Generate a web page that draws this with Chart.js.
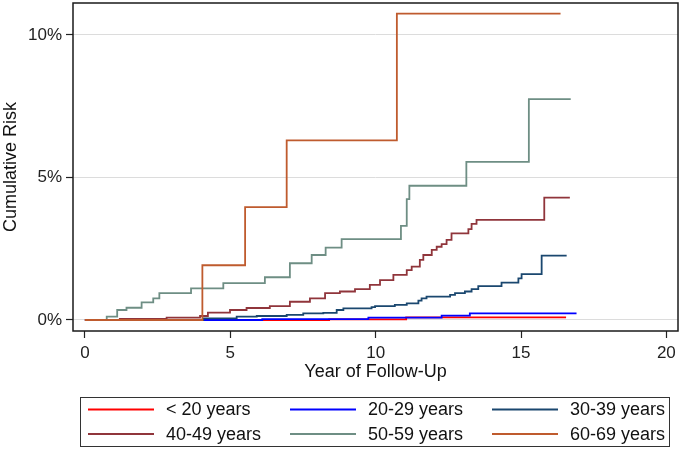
<!DOCTYPE html>
<html>
<head>
<meta charset="utf-8">
<script src="https://cdn.jsdelivr.net/npm/chart.js@4.4.1/dist/chart.umd.min.js"></script>
<style>
    html, body { margin: 0; padding: 0; background: #fff; }
    #wrap { width: 680px; height: 452px; }
</style>
</head>
<body>
<div id="wrap"><canvas id="riskChart" width="680" height="452"></canvas></div>
<script>
// 1. Dados
const groups = ['< 20 years', '20-29 years', '30-39 years', '40-49 years', '50-59 years', '60-69 years'];
const colors = ['#ff0000', '#0000ff', '#1a476f', '#90353b', '#6e8e84', '#bf5b2e'];

const timeLt20 = [0, 8.4, 11.05, 16.55];
const riskLt20 = [0, 0.02, 0.09, 0.09];

const time20s = [0, 6.1, 9.75, 12.27, 13.24, 16.91];
const risk20s = [0, 0.03, 0.08, 0.15, 0.23, 0.23];

const time30s = [0, 4.07, 5.22, 5.91, 6.94, 7.51, 8.2, 8.66, 8.89, 9.86, 9.98, 10.66, 11.07, 11.47, 11.58, 11.75, 12.56, 12.73, 13.07, 13.3, 13.53, 14.33, 14.91, 15.02, 15.71, 16.57];
const risk30s = [0, 0.06, 0.12, 0.14, 0.18, 0.23, 0.25, 0.35, 0.41, 0.45, 0.49, 0.53, 0.58, 0.68, 0.76, 0.82, 0.88, 0.94, 1.0, 1.08, 1.19, 1.31, 1.46, 1.61, 2.26, 2.26];

const time40s = [0, 1.2, 2.81, 3.96, 4.23, 4.99, 5.56, 6.36, 7.05, 7.74, 8.26, 8.77, 9.29, 9.8, 10.15, 10.61, 11.07, 11.24, 11.52, 11.64, 11.93, 12.1, 12.27, 12.44, 12.61, 13.19, 13.3, 13.47, 15.8, 16.68];
const risk40s = [0, 0.04, 0.08, 0.14, 0.26, 0.35, 0.42, 0.49, 0.64, 0.76, 0.94, 1.0, 1.08, 1.23, 1.4, 1.58, 1.75, 1.87, 2.11, 2.28, 2.46, 2.57, 2.66, 2.81, 3.04, 3.19, 3.37, 3.51, 4.29, 4.29];

const time50s = [0, 0.75, 1.11, 1.43, 1.95, 2.35, 2.56, 3.65, 4.76, 6.19, 7.05, 7.8, 8.28, 8.83, 10.87, 11.07, 11.16, 13.12, 15.27, 16.71];
const risk50s = [0, 0.12, 0.35, 0.43, 0.62, 0.76, 0.94, 1.11, 1.29, 1.5, 1.99, 2.28, 2.54, 2.84, 3.3, 4.24, 4.71, 5.55, 7.75, 7.75];

const time60s = [0, 4.04, 5.51, 6.94, 10.73, 16.36];
const risk60s = [0, 1.92, 3.96, 6.3, 10.75, 10.75];

const xTicks = [0, 5, 10, 15, 20];
const yTicks = [0, 5, 10];

const seriesTimes = [timeLt20, time20s, time30s, time40s, time50s, time60s];
const seriesRisks = [riskLt20, risk20s, risk30s, risk40s, risk50s, risk60s];

const FONT = "'Liberation Sans', Arial, sans-serif";

// 2. Monta os datasets (degraus tipo Kaplan-Meier)
function buildDatasets() {
    return groups.map((name, i) => ({
        label: name,
        data: seriesTimes[i].map((t, k) => ({ x: t, y: seriesRisks[i][k] })),
        borderColor: colors[i],
        borderWidth: 1.8,
        stepped: true,
        pointRadius: 0,
        fill: false,
        order: groups.length - 1 - i   // última faixa etária desenhada por cima
    }));
}

// 3. Moldura do gráfico + legenda em caixa (3 colunas x 2 linhas)
const frameAndLegend = {
    id: 'frameAndLegend',
    afterDatasetsDraw(chart) {
        const { ctx, chartArea: a } = chart;
        ctx.save();
        ctx.strokeStyle = '#1a1a1a';
        ctx.lineWidth = 1.5;
        ctx.strokeRect(a.left, a.top, a.right - a.left, a.bottom - a.top);
        ctx.restore();
    },
    afterDraw(chart) {
        const ctx = chart.ctx;
        ctx.save();
        ctx.strokeStyle = '#333';
        ctx.lineWidth = 1;
        ctx.strokeRect(80.5, 397.5, 589, 49);
        const colX = [88, 290, 492];
        const rowY = [409.5, 434];
        ctx.font = '18px ' + FONT;
        ctx.textBaseline = 'middle';
        ctx.fillStyle = '#111';
        groups.forEach((name, i) => {
            const x = colX[i % 3];
            const y = rowY[Math.floor(i / 3)];
            ctx.strokeStyle = colors[i];
            ctx.lineWidth = 1.8;
            ctx.beginPath();
            ctx.moveTo(x, y);
            ctx.lineTo(x + 66, y);
            ctx.stroke();
            ctx.fillText(name, x + 78, y + 1);
        });
        ctx.restore();
    }
};

// sem folga extra dos rótulos: a área do gráfico fica onde a layout manda
function noLabelPadding(s) {
    s.paddingTop = 0;
    s.paddingBottom = 0;
    s.paddingLeft = 0;
    s.paddingRight = 0;
}

// 4. Desenha o gráfico
function drawChart() {
    const canvas = document.getElementById('riskChart');
    if (!canvas) return;

    new Chart(canvas.getContext('2d'), {
        type: 'line',
        data: { datasets: buildDatasets() },
        options: {
            responsive: false,
            animation: false,
            devicePixelRatio: 1,
            layout: { padding: { top: 3, right: 2, left: 0, bottom: 69 } },
            plugins: {
                legend: { display: false },
                tooltip: { enabled: false }
            },
            scales: {
                x: {
                    type: 'linear',
                    min: -0.41,
                    max: 20.4,
                    afterBuildTicks: s => { s.ticks = xTicks.map(v => ({ value: v })); },
                    afterFit: s => { s.height = 52; noLabelPadding(s); },
                    border: { display: false },
                    grid: { drawOnChartArea: false, drawTicks: true, tickLength: 7, tickColor: '#222', tickWidth: 1.2 },
                    ticks: { color: '#222', font: { family: FONT, size: 17 }, padding: 5, maxRotation: 0 },
                    title: { display: true, text: 'Year of Follow-Up', color: '#111', font: { family: FONT, size: 18 }, padding: 0 }
                },
                y: {
                    type: 'linear',
                    min: -0.386,
                    max: 11.12,
                    afterBuildTicks: s => { s.ticks = yTicks.map(v => ({ value: v })); },
                    afterFit: s => { s.width = 73; noLabelPadding(s); },
                    border: { display: false },
                    grid: { color: '#dcdcdc', lineWidth: 1, drawTicks: true, tickLength: 7, tickColor: '#222', tickWidth: 1.2 },
                    ticks: { color: '#222', font: { family: FONT, size: 17 }, padding: 4, callback: v => v + '%' },
                    title: { display: true, text: 'Cumulative Risk', color: '#111', font: { family: FONT, size: 18 }, padding: 0 }
                }
            }
        },
        plugins: [frameAndLegend]
    });
}

// 5. Inicialização
document.addEventListener('DOMContentLoaded', drawChart);
</script>
</body>
</html>
